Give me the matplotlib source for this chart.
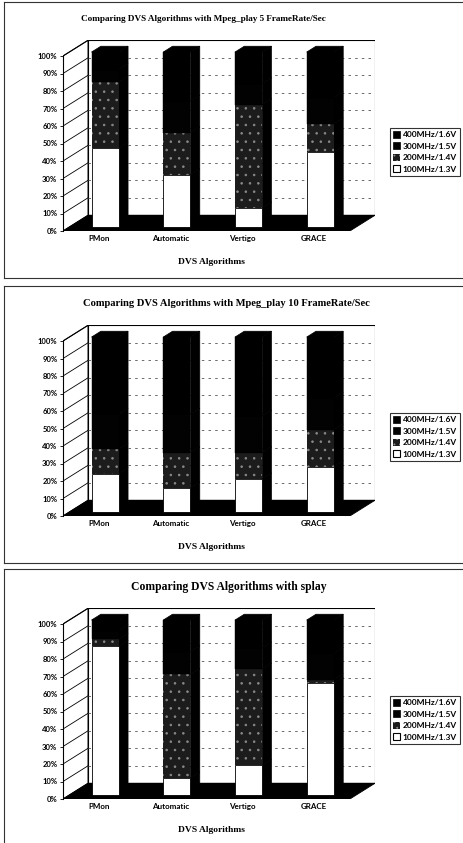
import matplotlib
matplotlib.use('Agg')
import matplotlib.pyplot as plt
from matplotlib.patches import Polygon, Rectangle, Patch
from matplotlib.lines import Line2D
import numpy as np

algorithms = ['PMon', 'Automatic', 'Vertigo', 'GRACE']
levels = ['400MHz/1.6V', '300MHz/1.5V', '200MHz/1.4V', '100MHz/1.3V']

# share of time (%) spent at each frequency/voltage level
mpeg5_100 = [45, 30, 11, 43]
mpeg5_200 = [38, 24, 59, 16]
mpeg5_300 = [7, 18, 12, 15]
mpeg5_400 = [10, 28, 18, 26]

mpeg10_100 = [22, 14, 19, 26]
mpeg10_200 = [14, 20, 15, 21]
mpeg10_300 = [20, 22, 21, 18]
mpeg10_400 = [44, 44, 45, 35]

splay_100 = [85, 10, 17, 64]
splay_200 = [4, 59, 55, 2]
splay_300 = [5, 13, 12, 15]
splay_400 = [6, 18, 16, 19]

titles = ['Comparing DVS Algorithms with Mpeg_play 5 FrameRate/Sec',
          'Comparing DVS Algorithms with Mpeg_play 10 FrameRate/Sec',
          'Comparing DVS Algorithms with splay']

W, H = 463, 843
DX, DY = 0.35, 9.0      # oblique depth shift (x units, percent)
Z0, Z1 = 0.25, 0.62     # bar front / back depth
BW = 0.38
PX_Y = 1.75             # pixels per percent

c100, c200, c300, c400 = 'white', '#1c1c1c', '#020202', '#000000'
speckle = '#8a8a8a'

serif = 'Liberation Serif'
sans = 'Lato'
plt.rcParams['hatch.linewidth'] = 0.6


def fx(px):
    return px / W


def fy(py):
    return 1 - py / H


def draw_panel(fig, y0, stacks, title, title_x, title_size):
    ax_h = (100 + DY) * PX_Y
    ax = fig.add_axes([fx(63), fy(y0), 312 / W, ax_h / H])
    ax.set_xlim(-0.5, 3.5 + DX)
    ax.set_ylim(0, 100 + DY)

    # left side wall with diagonal grid lines
    ax.add_patch(Polygon([(-0.5, 0), (-0.5 + DX, DY), (-0.5 + DX, 100 + DY), (-0.5, 100)],
                         closed=True, fc='white', ec='black', lw=0.8, zorder=1))
    for t in range(10, 101, 10):
        ax.plot([-0.5, -0.5 + DX], [t, t + DY], color='black', lw=0.6, zorder=1.2)
    # back wall with dashed gridlines
    ax.add_patch(Rectangle((-0.5 + DX, DY), 4, 100, fc='white', ec='black', lw=0.8, zorder=1))
    for t in range(10, 100, 10):
        ax.plot([-0.5 + DX, 3.5 + DX], [t + DY, t + DY], color='#555555', lw=0.6,
                ls=(0, (3, 5)), zorder=1.5)
    # floor
    ax.add_patch(Polygon([(-0.5, 0), (3.5, 0), (3.5 + DX, DY), (-0.5 + DX, DY)],
                         closed=True, fc='black', ec='black', lw=0.6, zorder=2))

    series = [(stacks[0], c100, 'black', 0.6, None),
              (stacks[1], c200, speckle, 0.0, '..'),
              (stacks[2], c300, 'black', 0.3, None),
              (stacks[3], c400, 'black', 0.3, None)]
    ddx, ddy = (Z1 - Z0) * DX, (Z1 - Z0) * DY
    for i in range(len(algorithms)):
        x = i + Z0 * DX
        bottom = 0
        for vals, fc, ec, lw, hatch in series:
            v = vals[i]
            if v <= 0:
                continue
            yb = bottom + Z0 * DY
            ax.bar(x, v, width=BW, bottom=yb, color=fc, edgecolor=ec, lw=lw,
                   hatch=hatch, zorder=4)
            xr = x + BW / 2
            ax.add_patch(Polygon([(xr, yb), (xr + ddx, yb + ddy), (xr + ddx, yb + v + ddy), (xr, yb + v)],
                                 closed=True, fc='black', ec='black', lw=0.5, zorder=3))
            bottom += v
        xl = x - BW / 2
        yt = bottom + Z0 * DY
        ax.add_patch(Polygon([(xl, yt), (xl + BW, yt), (xl + BW + ddx, yt + ddy), (xl + ddx, yt + ddy)],
                             closed=True, fc='black', ec='black', lw=0.5, zorder=3))

    for s in ['top', 'right', 'bottom']:
        ax.spines[s].set_visible(False)
    ax.spines['left'].set_bounds(0, 100)
    ax.spines['left'].set_linewidth(0.8)
    ax.patch.set_alpha(0)

    ticks = np.arange(0, 101, 10)
    ax.set_yticks(ticks)
    ax.set_yticklabels(['%d%%' % t for t in ticks], fontfamily=sans, fontweight='bold', fontsize=5.5)
    ax.tick_params(axis='y', length=2.5, width=0.6, pad=1.5)
    ax.set_xticks(range(len(algorithms)))
    ax.set_xticklabels(algorithms, fontfamily=sans, fontweight='bold', fontsize=5.8)
    ax.tick_params(axis='x', length=0, pad=3)
    ax.set_xlabel('DVS Algorithms', fontfamily=serif, fontweight='bold', fontsize=6.8)
    ax.xaxis.set_label_coords((211 - 63) / 312, -27 / ax_h)

    handles = [Patch(fc=c400, ec='black', lw=0.5),
               Patch(fc=c300, ec='black', lw=0.5),
               Patch(fc=c200, ec=speckle, lw=0, hatch='...'),
               Patch(fc='white', ec='black', lw=0.8)]
    leg = ax.legend(handles, levels, loc='upper left',
                    bbox_to_anchor=((390 - 63) / 312, 103 / ax_h),
                    prop={'family': sans, 'weight': 'bold', 'size': 6},
                    frameon=True, fancybox=False, edgecolor='black',
                    handlelength=0.9, handleheight=0.9, handletextpad=0.3,
                    labelspacing=0.5, borderpad=0.35, borderaxespad=0)
    leg.get_frame().set_linewidth(0.8)

    fig.text(fx(title_x), fy(y0 - 212), title, ha='center', va='center',
             fontfamily=serif, fontweight='bold', fontsize=title_size)
    return ax


fig = plt.figure(figsize=(W / 100, H / 100), dpi=100)

draw_panel(fig, 231, [mpeg5_100, mpeg5_200, mpeg5_300, mpeg5_400], titles[0], 203, 6.6)
draw_panel(fig, 516, [mpeg10_100, mpeg10_200, mpeg10_300, mpeg10_400], titles[1], 226, 7.6)
draw_panel(fig, 799, [splay_100, splay_200, splay_300, splay_400], titles[2], 229, 8.4)

# panel frames (left, top and bottom edges)
for top, bot in [(2, 278), (286, 563), (569, 846)]:
    fig.add_artist(Line2D([fx(4), fx(4)], [fy(top), fy(bot)], color='#333333', lw=0.8))
    fig.add_artist(Line2D([fx(4), fx(463)], [fy(top), fy(top)], color='#333333', lw=0.8))
    fig.add_artist(Line2D([fx(4), fx(463)], [fy(bot), fy(bot)], color='#333333', lw=0.8))

fig.savefig('out.png', dpi=100)
